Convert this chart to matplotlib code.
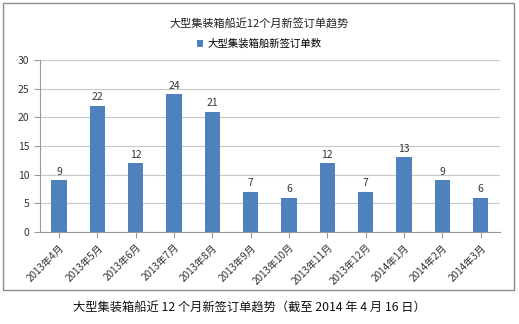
import matplotlib.pyplot as plt
from matplotlib.patches import Rectangle

plt.rcParams['font.family'] = ['Noto Sans CJK SC', 'DejaVu Sans']

months = ['2013年4月', '2013年5月', '2013年6月', '2013年7月', '2013年8月', '2013年9月',
          '2013年10月', '2013年11月', '2013年12月', '2014年1月', '2014年2月', '2014年3月']
orders = [9, 22, 12, 24, 21, 7, 6, 12, 7, 13, 9, 6]
yticks = [0, 5, 10, 15, 20, 25, 30]

fig = plt.figure(figsize=(5.19, 3.24), dpi=100)
ax = fig.add_axes([0.077, 0.284, 0.886, 0.531])

# outer chart frame
fig.patches.append(Rectangle((3 / 519, 1 - 290 / 324), 511 / 519, 287 / 324,
                             transform=fig.transFigure, fill=False,
                             edgecolor='#8c8c8c', lw=1))

x = list(range(len(months)))
ax.bar(x, orders, width=0.4, color='#4F81BD', zorder=3, label='大型集装箱船新签订单数')
for xi, v in zip(x, orders):
    ax.text(xi, v + 0.6, str(v), ha='center', va='bottom', fontsize=7.5, color='#333333')

ax.set_xlim(-0.5, 11.5)
ax.set_ylim(0, 30)
ax.set_yticks(yticks)
ax.yaxis.grid(True, color='#c8c8c8', lw=0.8, zorder=0)
ax.set_xticks(x)
ax.set_xticklabels(months, rotation=45, ha='right', rotation_mode='anchor', fontsize=7.2, color='#333333')
ax.tick_params(axis='y', labelsize=7.5, colors='#333333', length=4, direction='out')
ax.tick_params(axis='x', length=4, color='#999999')
ax.tick_params(axis='y', color='#999999')
for s in ['top', 'right']:
    ax.spines[s].set_visible(False)
ax.spines['left'].set_color('#999999')
ax.spines['bottom'].set_color('#999999')

fig.text(0.5, 1 - 24 / 324, '大型集装箱船近12个月新签订单趋势', ha='center', va='center', fontsize=8, color='#222222')
ax.legend(loc='center', bbox_to_anchor=(0.5, 1 - 44 / 324), bbox_transform=fig.transFigure,
          frameon=False, fontsize=7.5, handlelength=0.6, handleheight=0.6, handletextpad=0.4)

fig.text(0.48, 1 - 308 / 324, '大型集装箱船近 12 个月新签订单趋势（截至 2014 年 4 月 16 日）',
         ha='center', va='center', fontsize=8.8, color='#111111')

fig.savefig('out.png', dpi=100)
